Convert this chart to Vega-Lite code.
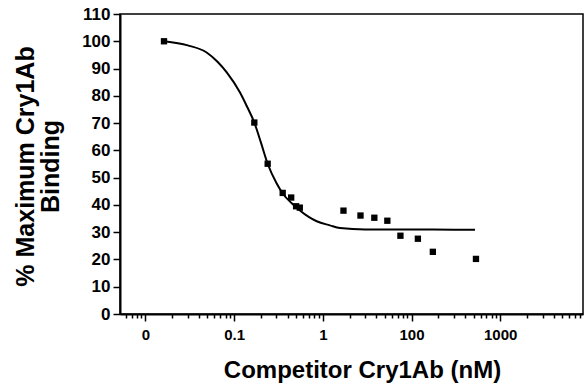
{
  "$schema": "https://vega.github.io/schema/vega-lite/v6.json",
  "width": 463,
  "height": 300,
  "autosize": {"type": "none"},
  "padding": {"left": 120, "top": 14, "right": 1, "bottom": 74},
  "background": "white",
  "config": {
    "view": {"stroke": "black", "strokeWidth": 1.5},
    "axis": {
      "domainColor": "black", "domainWidth": 2, "tickColor": "black", "tickWidth": 1.5,
      "labelColor": "black", "labelFont": "Liberation Sans", "labelFontWeight": "bold",
      "titleColor": "black", "titleFont": "Liberation Sans", "titleFontWeight": "bold",
      "grid": false
    }
  },
  "datasets": {
    "curve": [
      {"conc": 0.0162, "binding": 100},
      {"conc": 0.03, "binding": 98.5},
      {"conc": 0.049, "binding": 95.9},
      {"conc": 0.065, "binding": 92.5},
      {"conc": 0.0826, "binding": 88.6},
      {"conc": 0.1166, "binding": 81.2},
      {"conc": 0.14, "binding": 76},
      {"conc": 0.169, "binding": 70.2},
      {"conc": 0.2, "binding": 63},
      {"conc": 0.239, "binding": 55.1},
      {"conc": 0.3, "binding": 48},
      {"conc": 0.353, "binding": 44.2},
      {"conc": 0.45, "binding": 40.5},
      {"conc": 0.535, "binding": 38.3},
      {"conc": 0.7, "binding": 35.5},
      {"conc": 0.853, "binding": 34.0},
      {"conc": 1.2, "binding": 32.5},
      {"conc": 1.56, "binding": 31.5},
      {"conc": 3, "binding": 31},
      {"conc": 10, "binding": 31},
      {"conc": 30, "binding": 30.9},
      {"conc": 52, "binding": 30.9}
    ],
    "points": [
      {"conc": 0.0162, "binding": 100},
      {"conc": 0.169, "binding": 70.2},
      {"conc": 0.239, "binding": 55.1},
      {"conc": 0.353, "binding": 44.4},
      {"conc": 0.44, "binding": 42.7},
      {"conc": 0.5, "binding": 39.5},
      {"conc": 0.55, "binding": 39},
      {"conc": 1.71, "binding": 37.9},
      {"conc": 2.66, "binding": 36.1},
      {"conc": 3.81, "binding": 35.3},
      {"conc": 5.34, "binding": 34.2},
      {"conc": 7.5, "binding": 28.7},
      {"conc": 11.8, "binding": 27.6},
      {"conc": 17.4, "binding": 22.8},
      {"conc": 53.3, "binding": 20.2}
    ]
  },
  "encoding": {
    "x": {
      "field": "conc", "type": "quantitative",
      "scale": {"type": "log", "domain": [0.00517, 858], "nice": false},
      "axis": {
        "title": "Competitor Cry1Ab (nM)",
        "values": [0.006, 0.007, 0.008, 0.009, 0.01, 0.02, 0.03, 0.04, 0.05, 0.06, 0.07, 0.08, 0.09, 0.1, 0.2, 0.3, 0.4, 0.5, 0.6, 0.7, 0.8, 0.9, 1, 2, 3, 4, 5, 6, 7, 8, 9, 10, 20, 30, 40, 50, 60, 70, 80, 90, 100, 200, 300, 400, 500, 600, 700, 800],
        "labelExpr": "datum.value == 0.01 ? '0' : datum.value == 0.1 ? '0.1' : datum.value == 1 ? '1' : datum.value == 10 ? '100' : datum.value == 100 ? '1000' : ''",
        "labelOverlap": false,
        "labelFlush": false,
        "labelFontSize": 15,
        "labelPadding": 6,
        "tickSize": {"condition": {"test": "indexof([0.01, 0.1, 1, 10, 100], datum.value) >= 0", "value": 7}, "value": 4},
        "titleFontSize": 24,
        "titleX": 242,
        "titleY": 56,
        "titleAlign": "center",
        "titleBaseline": "middle"
      }
    },
    "y": {
      "field": "binding", "type": "quantitative",
      "scale": {"domain": [0, 110], "nice": false},
      "axis": {
        "title": ["% Maximum Cry1Ab", "Binding"],
        "values": [0, 10, 20, 30, 40, 50, 60, 70, 80, 90, 100, 110],
        "labelOverlap": false,
        "labelFlush": false,
        "labelFontSize": 17,
        "labelPadding": 3,
        "tickSize": 7,
        "titleFontSize": 25,
        "titleLineHeight": 25,
        "titleAngle": -90,
        "titleX": -95,
        "titleY": 152,
        "titleAlign": "center",
        "titleBaseline": "middle"
      }
    }
  },
  "layer": [
    {
      "data": {"name": "curve"},
      "mark": {"type": "line", "color": "black", "strokeWidth": 2, "interpolate": "monotone", "clip": true}
    },
    {
      "data": {"name": "points"},
      "mark": {"type": "point", "shape": "square", "filled": true, "color": "black", "size": 40, "opacity": 1}
    }
  ]
}
